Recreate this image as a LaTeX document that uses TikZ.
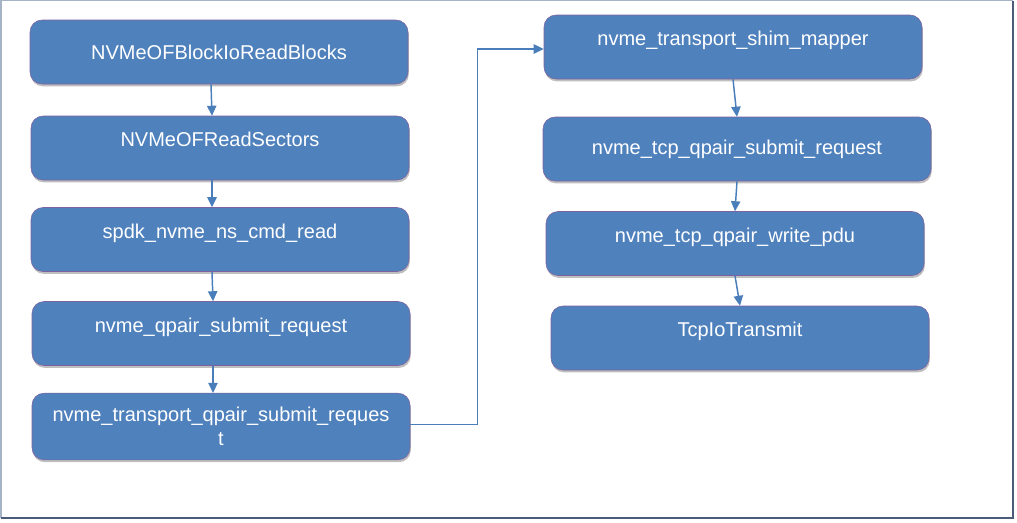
\documentclass[tikz,border=0pt]{standalone}
\usepackage{fontspec}
\setmainfont{Liberation Sans}
\usetikzlibrary{arrows.meta,shadows}

\definecolor{boxblue}{HTML}{4F81BD}
\definecolor{boxedge}{HTML}{7D62A0}
\definecolor{callblue}{HTML}{4A7EBB}
\definecolor{framelight}{HTML}{A5B3C7}
\definecolor{framedark}{HTML}{4A5C78}

\tikzset{
  fn/.style={draw=boxedge, line width=0.4pt, fill=boxblue, rounded corners=9pt,
    minimum width=283.5pt, minimum height=48pt, text=white, align=center,
    font=\fontsize{15}{18}\selectfont,
    drop shadow={shadow xshift=0.6pt, shadow yshift=-1.8pt, opacity=0.25, fill=black}},
  raised/.style={text depth=13pt},
  call/.style={-{Triangle[length=7.5pt,width=7pt]}, callblue, line width=1.1pt}
}

\begin{document}
\begin{tikzpicture}[x=0.75pt, y=-0.75pt]
    \useasboundingbox (0,0) rectangle (1017,522);
    \draw [framelight, line width=1pt] (1,518) -- (1,0.5) -- (1013,0.5);
    \draw [framedark, line width=1pt] (1013,0.5) -- (1013,518) -- (1,518);

    % left column
    \node [fn] (n1) at (219,52) {NVMeOFBlockIoReadBlocks};
    \node [fn, raised] (n2) at (220,148) {NVMeOFReadSectors};
    \node [fn, raised] (n3) at (220,239.5) {spdk\_nvme\_ns\_cmd\_read};
    \node [fn, raised] (n4) at (221,333.5) {nvme\_qpair\_submit\_request};
    \node [fn, minimum height=50pt] (n5) at (221,426.5) {nvme\_transport\_qpair\_submit\_reques\\t};

    % right column
    \node [fn, raised] (n6) at (733,47) {nvme\_transport\_shim\_mapper};
    \node [fn, minimum width=291pt] (n7) at (737,149) {nvme\_tcp\_qpair\_submit\_request};
    \node [fn, raised] (n8) at (735,243.5) {nvme\_tcp\_qpair\_write\_pdu};
    \node [fn, raised] (n9) at (740,338) {TcpIoTransmit};

    \draw [call] ([xshift=-6pt]n1.south) -- ([xshift=-6pt]n2.north);
    \draw [call] ([xshift=-6pt]n2.south) -- ([xshift=-6pt]n3.north);
    \draw [call] ([xshift=-6pt]n3.south) -- ([xshift=-6pt]n4.north);
    \draw [call] ([xshift=-6pt]n4.south) -- ([xshift=-6pt]n5.north);
    \draw [call] ([yshift=1.5pt]n5.east) -- ++(67,0) |- ([yshift=-1.5pt]n6.west);
    \draw [call] (n6.south) -- (n7.north);
    \draw [call] (n7.south) -- (n8.north);
    \draw [call] (n8.south) -- (n9.north);
\end{tikzpicture}
\end{document}
